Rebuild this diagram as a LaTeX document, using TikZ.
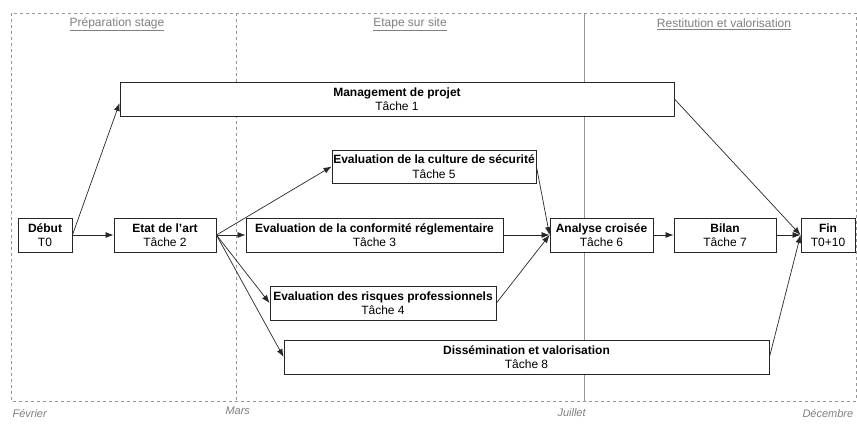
\documentclass[tikz,border=0pt]{standalone}
\usepackage{fontspec}
\setmainfont{Liberation Sans}
\usepackage{tikz}
\usetikzlibrary{arrows.meta}
\definecolor{cadre}{RGB}{150,150,150}
\definecolor{trait}{RGB}{40,40,40}
\tikzstyle{tache} = [draw=black!85, line width=0.9pt, fill=white, align=center, inner sep=0pt, font=\fontsize{12}{14.5}\selectfont]
\tikzstyle{arrow} = [trait, line width=0.7pt, -{Latex[length=8pt,width=6pt]}]
\tikzstyle{phase} = [text=black!50, font=\fontsize{12}{14}\selectfont]
\tikzstyle{mois} = [text=black!50, font=\fontsize{11}{13}\selectfont\itshape, anchor=west]

\begin{document}
\begin{tikzpicture}[x=1pt,y=-1pt]
\useasboundingbox[fill=white] (0,0) rectangle (857,424);

% cadre des phases
\draw[cadre, dashed, line width=0.7pt] (11,13) rectangle (856,401);
\draw[cadre, dashed, line width=0.7pt] (236,13) -- (236,401);
\draw[cadre, line width=0.7pt] (584,13) -- (584,401);

\node[phase] (ph1) at (117,24) {\underline{Préparation stage}};
\node[phase] (ph2) at (410,24) {\underline{Etape sur site}};
\node[phase] (ph3) at (724,24) {\underline{Restitution et valorisation}};

\node[mois] (m1) at (9,413) {Février};
\node[mois] (m2) at (222,411) {Mars};
\node[mois] (m3) at (554,413) {Juillet};
\node[mois] (m4) at (799,413) {Décembre};

% taches
\node[tache, minimum width=54, minimum height=34] (debut) at (45,235) {\textbf{Début}\\T0};
\node[tache, minimum width=102, minimum height=34] (etat) at (165,235) {\textbf{Etat de l'art}\\Tâche 2};
\node[tache, minimum width=554, minimum height=34] (mgmt) at (397,99) {\textbf{Management de projet}\\Tâche 1};
\node[tache, minimum width=204, minimum height=33] (culture) at (434,166.5) {\textbf{Evaluation de la culture de sécurité}\\Tâche 5};
\node[tache, minimum width=257, minimum height=34] (conform) at (374.5,235) {\textbf{Evaluation de la conformité réglementaire}\\Tâche 3};
\node[tache, minimum width=226, minimum height=34] (risques) at (383,303) {\textbf{Evaluation des risques professionnels}\\Tâche 4};
\node[tache, minimum width=485, minimum height=34] (dissem) at (526.5,357) {\textbf{Dissémination et valorisation}\\Tâche 8};
\node[tache, minimum width=103, minimum height=34] (analyse) at (601.5,235) {\textbf{Analyse croisée}\\Tâche 6};
\node[tache, minimum width=102, minimum height=34] (bilan) at (725,235) {\textbf{Bilan}\\Tâche 7};
\node[tache, minimum width=54, minimum height=34] (fin) at (828,235) {\textbf{Fin}\\T0+10};

% liens
\draw[arrow] (debut.east) -- (etat.west);
\draw[arrow] (debut.east) -- ([yshift=-4pt]mgmt.west);
\draw[arrow] (etat.east) -- (culture.west);
\draw[arrow] (etat.east) -- (conform.west);
\draw[arrow] (etat.east) -- (risques.west);
\draw[arrow] (etat.east) -- (dissem.west);
\draw[arrow] (culture.east) -- (analyse.west);
\draw[arrow] (conform.east) -- (analyse.west);
\draw[arrow] (risques.east) -- (analyse.west);
\draw[arrow] (analyse.east) -- (bilan.west);
\draw[arrow] (bilan.east) -- (fin.west);
\draw[arrow] (mgmt.east) -- (fin.west);
\draw[arrow] (dissem.east) -- (fin.west);

\end{tikzpicture}
\end{document}
